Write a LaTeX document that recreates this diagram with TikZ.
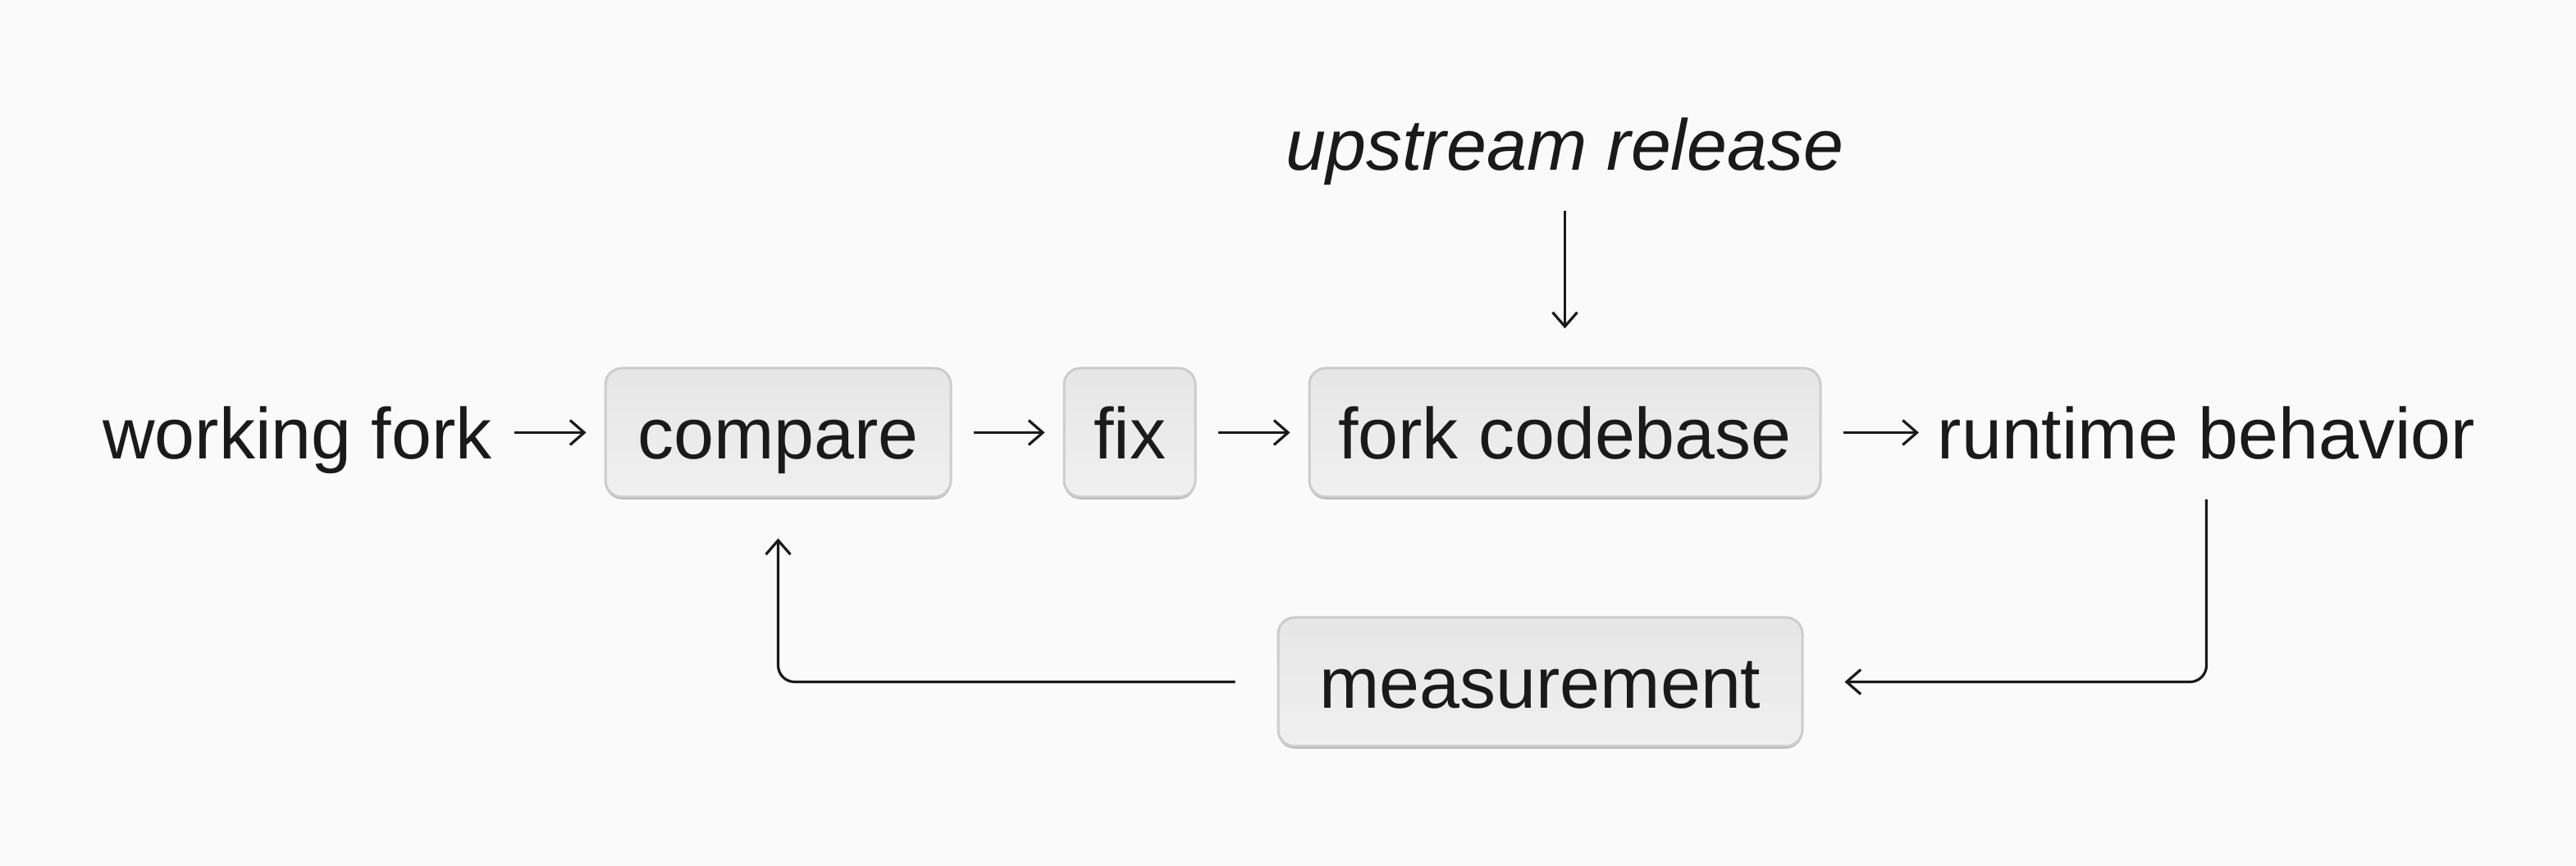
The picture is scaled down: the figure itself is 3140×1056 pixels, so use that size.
\documentclass[tikz,border=0pt]{standalone}
\usepackage{fontspec}
\setmainfont{Liberation Sans}
\usetikzlibrary{arrows.meta,shadows}
\definecolor{bg}{HTML}{FAFAFA}
\definecolor{ink}{HTML}{1A1A1A}
\definecolor{boxtop}{HTML}{E6E6E6}
\definecolor{boxbot}{HTML}{F0F0F0}
\definecolor{boxline}{HTML}{CCCCCC}
\definecolor{boxshadow}{HTML}{B5B5B5}
\begin{document}
\begin{tikzpicture}[x=0.25pt,y=-0.25pt,
  lbl/.style={inner sep=0pt, text height=16.25pt, text depth=0pt, text=ink,
    font=\fontsize{22}{26}\selectfont},
  boxnode/.style={lbl, rounded corners=5pt, draw=boxline, line width=0.75pt,
    top color=boxtop, bottom color=boxbot, minimum height=39.25pt,
    drop shadow={shadow xshift=0pt, shadow yshift=-0.7pt, fill=boxshadow, opacity=1}},
  arr/.style={draw=ink, line width=0.8pt, -{Straight Barb[length=4.3pt,width=7.5pt]}},
  link/.style={arr, shorten <=6.6pt, shorten >=5.5pt}
]
\useasboundingbox (0,0) rectangle (3140,1056);
\fill[bg] (0,0) rectangle (3140,1056);

\node[lbl] (wf) at (362.5,527.5) {working fork};
\node[boxnode, minimum width=105.25pt] (cmp) at (948.5,527.5) {compare};
\node[boxnode, minimum width=40pt] (fix) at (1377,527.5) {fix};
\node[boxnode, minimum width=155.75pt] (fcb) at (1907.5,527.5) {fork codebase};
\node[lbl] (rb) at (2689.5,527.5) {runtime behavior};
\node[lbl, font=\fontsize{22}{26}\selectfont\itshape] (ur) at (1907.5,175.5) {upstream release};
\node[boxnode, minimum width=159.75pt] (ms) at (1877.5,831.5) {measurement};

\draw[link] (wf.east) -- (cmp.west);
\draw[link] (cmp.east) -- (fix.west);
\draw[link] (fix.east) -- (fcb.west);
\draw[link] (fcb.east) -- (rb.west);
\draw[arr, shorten <=12pt, shorten >=11.75pt] (ur.south) -- (fcb.north);
\draw[arr, rounded corners=5pt] ([yshift=-12pt]rb.south) |- ([xshift=12.5pt]ms.east);
\draw[arr, rounded corners=5pt] ([xshift=-12.75pt]ms.west) -| ([yshift=-12.25pt]cmp.south);
\end{tikzpicture}
\end{document}
